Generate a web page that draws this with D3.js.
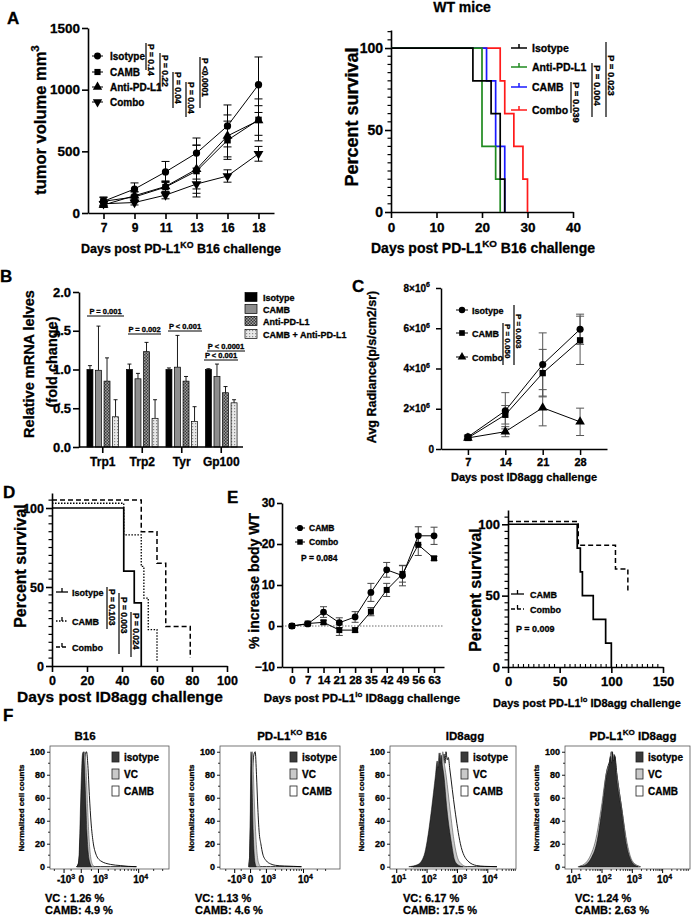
<!DOCTYPE html>
<html><head><meta charset="utf-8">
<script src="https://cdn.jsdelivr.net/npm/d3@7"></script>
<style>
body{margin:0;background:#fff;}
svg{display:block;font-family:"Liberation Sans",Arial,sans-serif;font-weight:bold;}
svg text{stroke:#000;stroke-width:0.3px;}
</style></head><body>
<svg id="chart" width="692" height="918"></svg>
<script>
// ================= DATA =================
// Panel A (left): tumour volume, PD-L1KO B16
const aDays = ["7", "9", "11", "13", "16", "18"];
const aYTicks = [0, 500, 1000, 1500];
const aIsotype = [95, 194, 333, 486, 706, 1040];
const aIsotypeErr = [30, 50, 85, 122, 170, 225];
const aCAMB = [95, 130, 210, 340, 590, 755];
const aCAMBErr = [35, 40, 45, 210, 155, 170];
const aAnti = [65, 140, 215, 355, 625, 750];
const aAntiErr = [20, 35, 45, 195, 170, 120];
const aCombo = [75, 85, 145, 235, 300, 480];
const aComboErr = [20, 20, 30, 40, 50, 60];
const aSeriesNames = ["Isotype", "CAMB", "Anti-PD-L1", "Combo"];
const aPvals = ["P = 0.14", "P = 0.22", "P = 0.04", "P = 0.04", "P <0.0001"];

// Panel A (right): survival, WT mice
const wtNames = ["Isotype", "Anti-PD-L1", "CAMB", "Combo"];
const wtIsoT = [0, 18, 22, 24, 25],        wtIsoS = [100, 80, 60, 20, 0];
const wtAntiT = [0, 20, 23, 24],           wtAntiS = [100, 40, 20, 0];
const wtCambT = [0, 21, 23, 25],           wtCambS = [100, 80, 40, 0];
const wtComboT = [0, 24, 25, 27, 29, 30],  wtComboS = [100, 80, 60, 40, 20, 0];
const wtXTicks = [0, 10, 20, 30, 40];
const wtPvals = ["P = 0.039", "P = 0.004", "P = 0.023"];

// Panel B: relative mRNA levels
const bGenes = ["Trp1", "Trp2", "Tyr", "Gp100"];
const bSeries = ["Isotype", "CAMB", "Anti-PD-L1", "CAMB + Anti-PD-L1"];
const bIsotype = [1.0, 1.0, 1.0, 1.0],     bIsotypeErr = [0.05, 0.07, 0.02, 0.01];
const bCAMB = [0.99, 0.88, 1.03, 0.91],    bCAMBErr = [0.57, 0.07, 0.41, 0.16];
const bAnti = [0.85, 1.23, 0.85, 0.70],    bAntiErr = [0.30, 0.12, 0.06, 0.08];
const bCombo = [0.39, 0.37, 0.33, 0.57],   bComboErr = [0.22, 0.24, 0.19, 0.04];
const bYTicks = [0, 0.5, 1.0, 1.5, 2.0];
const bPvals = ["P = 0.001", "P = 0.002", "P < 0.001", "P < 0.0001", "P < 0.001"];

// Panel C: avg radiance
const cDays = ["7", "14", "21", "28"];
const cIsotype = [0.6e6, 1.9e6, 4.2e6, 5.95e6], cIsotypeErr = [0.1e6, 0.9e6, 1.57e6, 0.75e6];
const cCAMB = [0.55e6, 1.7e6, 3.77e6, 5.4e6],   cCAMBErr = [0.1e6, 0.46e6, 1.18e6, 1.2e6];
const cCombo = [0.55e6, 0.86e6, 2.05e6, 1.35e6], cComboErr = [0.05e6, 0.25e6, 0.9e6, 0.68e6];
const cYTicks = [0, 2e6, 4e6, 6e6, 8e6];
const cNames = ["Isotype", "CAMB", "Combo"];
const cPvals = ["P = 0.050", "P = 0.003"];

// Panel D: survival ID8agg
const dIsoT = [0, 41, 47, 51],             dIsoS = [100, 60, 40, 0];
const dCambT = [0, 41, 51, 52.5, 55, 60],  dCambS = [100, 80, 60, 40, 20, 0];
const dComboT = [0, 51, 60, 65, 79],       dComboS = [100, 80, 60, 20, 0];
const dXTicks = [0, 20, 40, 60, 80, 100];
const dNames = ["Isotype", "CAMB", "Combo"];
const dPvals = ["P = 0.103", "P = 0.003", "P = 0.024"];

// Panel E (left): % increase body weight
const eDays = ["0", "7", "14", "21", "28", "35", "42", "49", "56", "63"];
const eCAMB = [0, 0.5, 3.4, 0.8, 2.2, 8.2, 13.7, 12.3, 22, 22];
const eCAMBErr = [0.3, 0.4, 1.3, 1.2, 1.3, 2.2, 1.8, 2.5, 2.2, 2.1];
const eCombo = [0, 0.6, 0.9, -1.0, -1.0, 3.5, 8.8, 12.7, 19.8, 16.5];
const eComboErr = [0.2, 0.3, 0.5, 1.3, 0.5, 1.0, 1.6, 2.0, 2.6, 0.5];
const eYTicks = [-10, 0, 10, 20, 30];

// Panel E (right): survival PD-L1lo ID8agg
const esCambT = [0, 67, 70, 72, 82.5, 94.5, 100], esCambS = [100, 83.3, 66.7, 50, 33.3, 16.7, 0];
const esComboT = [0, 68, 104, 116],              esComboS = [100, 83.3, 66.7, 50];
const esXTicks = [0, 50, 100, 150];

// Panel F: flow histograms [fluorescence, normalized count]
const fTitles = ["B16", "PD-L1KO B16", "ID8agg", "PD-L1KO ID8agg"];
const fVC = ["VC : 1.26 %", "VC: 1.13 %", "VC: 6.17 %", "VC: 1.24 %"];
const fCAMB = ["CAMB: 4.9 %", "CAMB: 4.6 %", "CAMB: 17.5 %", "CAMB: 2.63 %"];
const fLegend = ["isotype", "VC", "CAMB"];
const fYTicks = [0, 20, 40, 60, 80, 100];
const f1Iso = [[-200,0],[-120,3],[-80,15],[-40,45],[0,75],[50,98],[90,100],[140,85],[190,60],[250,30],[320,12],[400,4],[500,0]];
const f1VC = [[-180,0],[-100,3],[-40,25],[30,70],[100,95],[150,100],[210,85],[280,55],[360,25],[450,9],[560,2],[700,0]];
const f1CAMB = [[-200,0],[-100,4],[-20,30],[70,70],[160,96],[230,100],[300,88],[380,62],[480,38],[600,22],[800,11],[1200,5],[2300,2],[4000,1],[6000,0.3],[9000,0]];
const f2Iso = [[-70,0],[-40,8],[-15,40],[5,85],[20,100],[45,90],[80,60],[120,30],[170,10],[230,2],[280,0]];
const f2VC = [[-80,0],[-40,10],[0,50],[40,90],[80,100],[130,80],[190,50],[260,25],[350,8],[450,2],[560,0]];
const f2CAMB = [[-90,0],[-40,10],[20,50],[90,85],[160,98],[220,100],[290,80],[370,50],[450,30],[560,20],[700,11],[1000,5],[1400,2.5],[2000,1.2],[3500,0.6],[6000,0.3],[9000,0]];
const f3Iso = [[25,0],[50,2],[80,10],[100,22],[140,50],[190,80],[215,92],[230,86],[250,99],[270,90],[290,97],[320,88],[355,80],[450,50],[640,20],[800,6],[1000,2],[1500,0]];
const f3VC = [[30,0],[60,2],[90,10],[120,22],[170,50],[230,80],[250,88],[275,99],[300,90],[330,100],[360,92],[430,78],[570,50],[800,20],[1000,8],[1400,2],[2000,0]];
const f3CAMB = [[35,0],[70,3],[130,20],[200,50],[290,80],[330,85],[360,98],[390,90],[420,100],[460,93],[500,95],[560,85],[820,50],[1250,20],[2200,5],[4300,1],[8000,0.3],[20000,0]];
const f4Iso = [[18,0],[30,2],[45,8],[66,20],[100,50],[142,80],[170,88],[190,96],[205,90],[220,100],[240,92],[260,97],[296,80],[433,50],[630,20],[925,5],[1300,1],[1550,0]];
const f4VC = [[16,0],[28,3],[42,10],[60,22],[95,52],[140,82],[175,90],[200,100],[225,93],[250,98],[300,82],[450,50],[680,20],[1000,5],[1500,1],[1900,0]];
const f4CAMB = [[17,0],[30,3],[45,10],[64,22],[100,52],[145,84],[180,92],[210,100],[235,94],[265,96],[305,82],[450,50],[650,20],[950,5],[1400,1],[1800,0]];

// ================= DRAWING =================
const FONT = '"Liberation Sans", Arial, sans-serif';
const svg = d3.select("#chart");
const defs = svg.append("defs");
{
  const p1 = defs.append("pattern").attr("id", "chk").attr("width", 3).attr("height", 3).attr("patternUnits", "userSpaceOnUse");
  p1.append("rect").attr("width", 3).attr("height", 3).attr("fill", "#a0a0a0");
  p1.append("rect").attr("width", 1.5).attr("height", 1.5).attr("fill", "#3a3a3a");
  p1.append("rect").attr("x", 1.5).attr("y", 1.5).attr("width", 1.5).attr("height", 1.5).attr("fill", "#3a3a3a");
  const p2 = defs.append("pattern").attr("id", "dot").attr("width", 3).attr("height", 3).attr("patternUnits", "userSpaceOnUse");
  p2.append("rect").attr("width", 3).attr("height", 3).attr("fill", "#e8e8e8");
  p2.append("rect").attr("width", 1.2).attr("height", 1.2).attr("fill", "#8a8a8a");
}

function txt(g, x, y, s, size, o = {}) {
  const t = g.append("text").attr("x", x).attr("y", y)
    .attr("font-size", size).attr("font-weight", "bold").attr("font-family", FONT)
    .attr("text-anchor", o.anchor || "start").attr("fill", o.fill || "#000");
  if (o.rotate) t.attr("transform", `rotate(${o.rotate},${x},${y})`);
  const parts = Array.isArray(s) ? s : [s];
  let up = 0;
  parts.forEach(p => {
    const isSup = typeof p === "object";
    const ts = t.append("tspan").text(isSup ? p.sup : p);
    if (isSup) { up = size * 0.42; ts.attr("dy", -up).attr("font-size", size * 0.7); }
    else if (up) { ts.attr("dy", up); up = 0; }
  });
  return t;
}
function styleAxis(sel, size, sw) {
  sel.attr("font-family", FONT).attr("font-size", size).attr("font-weight", "bold");
  sel.selectAll(".domain").attr("stroke", "#000").attr("stroke-width", sw);
  sel.selectAll(".tick line").attr("stroke", "#000").attr("stroke-width", sw);
  sel.selectAll(".tick text").attr("fill", "#000");
}
function minorY(g, y, vals, ax, len, sw) {
  vals.forEach(v => g.append("line").attr("x1", ax - len).attr("x2", ax).attr("y1", y(v)).attr("y2", y(v)).attr("stroke", "#000").attr("stroke-width", sw));
}
function minorX(g, x, vals, ay, len, sw) {
  vals.forEach(v => g.append("line").attr("x1", x(v)).attr("x2", x(v)).attr("y1", ay).attr("y2", ay + len).attr("stroke", "#000").attr("stroke-width", sw));
}
function errBars(g, xs, y, vals, errs, cap, color, sw, upperOnly) {
  vals.forEach((v, i) => {
    const e = errs[i]; const x = xs[i];
    const yt = y(v + e), yb = upperOnly ? y(v) : y(v - e);
    g.append("line").attr("x1", x).attr("x2", x).attr("y1", yt).attr("y2", yb).attr("stroke", color).attr("stroke-width", sw);
    g.append("line").attr("x1", x - cap / 2).attr("x2", x + cap / 2).attr("y1", yt).attr("y2", yt).attr("stroke", color).attr("stroke-width", sw);
    if (!upperOnly) g.append("line").attr("x1", x - cap / 2).attr("x2", x + cap / 2).attr("y1", yb).attr("y2", yb).attr("stroke", color).attr("stroke-width", sw);
  });
}
function sym(g, type, size, x, y) {
  const t = type === "down" ? d3.symbolTriangle : type === "circle" ? d3.symbolCircle : type === "square" ? d3.symbolSquare : d3.symbolTriangle;
  g.append("path").attr("d", d3.symbol(t, size)()).attr("fill", "#000")
    .attr("transform", `translate(${x},${y})` + (type === "down" ? " rotate(180)" : ""));
}
function pBar(g, lx, y1, y2, label, size, ty) {
  g.append("line").attr("x1", lx).attr("x2", lx).attr("y1", y1).attr("y2", y2).attr("stroke", "#000").attr("stroke-width", 1.2);
  txt(g, lx + 2, ty, label, size, { rotate: 90 });
}
function survLine(g, x, y, T, S, off, color, sw, dash) {
  const pts = T.map((t, i) => [t, S[i]]);
  const p = g.append("path").attr("d", d3.line().x(d => x(d[0])).y(d => y(d[1] + off)).curve(d3.curveStepAfter)(pts))
    .attr("fill", "none").attr("stroke", color).attr("stroke-width", sw);
  if (dash) p.attr("stroke-dasharray", dash);
}
function legLine(g, x1, x2, yy, color, sw, dash) {
  const l = g.append("line").attr("x1", x1).attr("x2", x2).attr("y1", yy).attr("y2", yy).attr("stroke", color).attr("stroke-width", sw);
  if (dash) l.attr("stroke-dasharray", dash);
  const m = (x1 + x2) / 2;
  g.append("line").attr("x1", m).attr("x2", m).attr("y1", yy).attr("y2", yy - 4).attr("stroke", color).attr("stroke-width", sw);
}
const intFmt = d3.format("d");

// panel letters
[["A", 7, 24], ["B", 0, 282], ["C", 352, 292], ["D", 3, 498], ["E", 227, 503], ["F", 3, 721]]
  .forEach(d => txt(svg, d[1], d[2], d[0], 17));

// ---------- A left ----------
{
  const g = svg.append("g");
  const x = d3.scalePoint().domain(aDays).range([88, 274]).padding(0.5);
  const y = d3.scaleLinear().domain([0, 1500]).range([213, 28]);
  g.append("g").attr("transform", "translate(0,213)")
    .call(d3.axisBottom(x).tickSize(6).tickSizeOuter(0).tickPadding(4)).call(styleAxis, 12, 1.6);
  g.append("g").attr("transform", "translate(88,0)")
    .call(d3.axisLeft(y).tickValues(aYTicks).tickFormat(intFmt).tickSize(6).tickSizeOuter(0).tickPadding(2)).call(styleAxis, 13.5, 1.6);
  const xs = aDays.map(d => x(d));
  const series = [[aIsotype, aIsotypeErr, "circle"], [aCAMB, aCAMBErr, "square"], [aAnti, aAntiErr, "triangle"], [aCombo, aComboErr, "down"]];
  series.forEach(s => {
    errBars(g, xs, y, s[0], s[1], 8, "#000", 1, false);
    g.append("path").datum(s[0]).attr("d", d3.line().x((d, i) => xs[i]).y(d => y(d)))
      .attr("fill", "none").attr("stroke", "#000").attr("stroke-width", 1);
  });
  series.forEach(s => s[0].forEach((v, i) => sym(g, s[2], 42, xs[i], y(v))));
  const rows = [56, 72, 87, 102];
  aSeriesNames.forEach((n, i) => {
    g.append("line").attr("x1", 92).attr("x2", 103).attr("y1", rows[i]).attr("y2", rows[i]).attr("stroke", "#000").attr("stroke-width", 1);
    sym(g, series[i][2], 38, 97.5, rows[i]);
    txt(g, 110, rows[i] + 3.5, n, 10);
  });
  const pb = [[146, 43, 70, 44], [160, 53, 90, 55], [173, 72, 108, 72], [186, 82, 117, 82], [200, 57, 108, 58]];
  pb.forEach((b, i) => pBar(g, b[0], b[1], b[2], aPvals[i], 8.5, b[3]));
  txt(g, 46, 120, ["tumor volume mm", { sup: "3" }], 16.5, { anchor: "middle", rotate: -90 });
  txt(g, 181, 253, ["Days post PD-L1", { sup: "KO" }, " B16 challenge"], 12.5, { anchor: "middle" });
}

// ---------- A right ----------
{
  const g = svg.append("g");
  const x = d3.scaleLinear().domain([0, 40]).range([391, 573]);
  const y = d3.scaleLinear().domain([0, 111]).range([212, 30]);
  g.append("g").attr("transform", "translate(0,212)")
    .call(d3.axisBottom(x).tickValues(wtXTicks).tickSize(6).tickSizeOuter(0).tickPadding(4)).call(styleAxis, 13.5, 1.6);
  g.append("g").attr("transform", "translate(391,0)")
    .call(d3.axisLeft(y).tickValues([0, 50, 100]).tickSize(6).tickSizeOuter(0).tickPadding(2)).call(styleAxis, 14, 1.6);
  minorY(g, y, d3.range(5, 111, 5).filter(v => v % 50), 391, 3.5, 1.2);
  const cols = { iso: "#000", anti: "#1f8a1f", camb: "#1a1aff", combo: "#ff1a1a" };
  survLine(g, x, y, wtComboT, wtComboS, 0, cols.combo, 1.7);
  survLine(g, x, y, wtCambT, wtCambS, 0, cols.camb, 1.7);
  survLine(g, x, y, wtAntiT, wtAntiS, 0, cols.anti, 1.7);
  survLine(g, x, y, wtIsoT, wtIsoS, 0, cols.iso, 1.7);
  const lc = [cols.iso, cols.anti, cols.camb, cols.combo];
  const rows = [48, 67, 87, 110];
  wtNames.forEach((n, i) => {
    legLine(g, 511, 527, rows[i], lc[i], 1.5);
    txt(g, 532, rows[i] + 4, n, 10.5);
  });
  const pb = [[571, 82, 113, 82], [592, 63, 117, 65], [606, 42, 117, 55]];
  pb.forEach((b, i) => pBar(g, b[0], b[1], b[2], wtPvals[i], 9.5, b[3]));
  txt(g, 462, 12, "WT mice", 14, { anchor: "middle" });
  txt(g, 358, 117, "Percent survival", 18, { anchor: "middle", rotate: -90 });
  txt(g, 483, 253, ["Days post PD-L1", { sup: "KO" }, " B16 challenge"], 14, { anchor: "middle" });
}

// ---------- B ----------
{
  const g = svg.append("g");
  const x0 = d3.scaleBand().domain(bGenes).range([83, 241]).paddingInner(0.2).paddingOuter(0.1);
  const x1 = d3.scaleBand().domain(bSeries).range([0, x0.bandwidth()]).paddingInner(0.3);
  const y = d3.scaleLinear().domain([0, 2]).range([447, 292]);
  const vals = [bIsotype, bCAMB, bAnti, bCombo];
  const errs = [bIsotypeErr, bCAMBErr, bAntiErr, bComboErr];
  const fills = ["#000", "#8e8e8e", "url(#chk)", "url(#dot)"];
  bSeries.forEach((s, si) => {
    const xs = bGenes.map(gn => x0(gn) + x1(s) + x1.bandwidth() / 2);
    errBars(g, xs, y, vals[si], errs[si], 4, "#000", 0.9, true);
    bGenes.forEach((gn, gi) => {
      g.append("rect").attr("x", x0(gn) + x1(s)).attr("width", x1.bandwidth())
        .attr("y", y(vals[si][gi])).attr("height", y(0) - y(vals[si][gi]))
        .attr("fill", fills[si]).attr("stroke", "#000").attr("stroke-width", 0.7);
    });
  });
  const ax = g.append("g").attr("transform", "translate(0,447)")
    .call(d3.axisBottom(x0).tickSize(6).tickSizeOuter(0).tickPadding(4)).call(styleAxis, 12, 1.6);
  ax.select(".domain").attr("d", "M79,0H243");
  g.append("g").attr("transform", "translate(79,0)")
    .call(d3.axisLeft(y).tickValues(bYTicks).tickFormat(d3.format(".1f")).tickSize(6).tickSizeOuter(0).tickPadding(2)).call(styleAxis, 13, 1.6);
  const pl = [[87, 124, 316], [128, 161, 334], [168, 202, 331], [207, 245, 351], [204, 238, 360]];
  pl.forEach((p, i) => {
    g.append("line").attr("x1", p[0]).attr("x2", p[1]).attr("y1", p[2]).attr("y2", p[2]).attr("stroke", "#000").attr("stroke-width", 1.2);
    txt(g, (p[0] + p[1]) / 2, p[2] - 2.5, bPvals[i], 7.5, { anchor: "middle" });
  });
  const rows = [297, 309, 321, 334];
  bSeries.forEach((s, i) => {
    g.append("rect").attr("x", 245).attr("y", rows[i] - 4.5).attr("width", 12).attr("height", 9)
      .attr("fill", fills[i]).attr("stroke", "#000").attr("stroke-width", 0.7);
    txt(g, 263, rows[i] + 3.5, s, 9);
  });
  txt(g, 34, 364, "Relative mRNA lelves", 14.5, { anchor: "middle", rotate: -90 });
  txt(g, 57, 362, "(fold change)", 14.5, { anchor: "middle", rotate: -90 });
}

// ---------- C ----------
{
  const g = svg.append("g");
  const x = d3.scalePoint().domain(cDays).range([441, 607]).padding(0.72);
  const y = d3.scaleLinear().domain([0, 8e6]).range([449, 288]);
  g.append("g").attr("transform", "translate(0,449)")
    .call(d3.axisBottom(x).tickSize(6).tickSizeOuter(0).tickPadding(3)).call(styleAxis, 11, 1.5);
  g.append("g").attr("transform", "translate(441,0)")
    .call(d3.axisLeft(y).tickValues(cYTicks).tickSize(5).tickSizeOuter(0).tickFormat("")).call(styleAxis, 10, 1.5);
  cYTicks.forEach(v => {
    const lab = v === 0 ? "0" : [(v / 1e6) + "×10", { sup: "6" }];
    txt(g, v === 0 ? 434 : 430, y(v) + 3.5, lab, 10, { anchor: "end" });
  });
  const xs = cDays.map(d => x(d));
  const series = [[cIsotype, cIsotypeErr, "circle"], [cCAMB, cCAMBErr, "square"], [cCombo, cComboErr, "triangle"]];
  series.forEach(s => {
    errBars(g, xs, y, s[0], s[1], 8, "#555", 1, false);
    g.append("path").datum(s[0]).attr("d", d3.line().x((d, i) => xs[i]).y(d => y(d)))
      .attr("fill", "none").attr("stroke", "#000").attr("stroke-width", 1);
  });
  series.forEach(s => s[0].forEach((v, i) => sym(g, s[2], 40, xs[i], y(v))));
  const rows = [310, 333, 357];
  cNames.forEach((n, i) => {
    g.append("line").attr("x1", 456).attr("x2", 468).attr("y1", rows[i]).attr("y2", rows[i]).attr("stroke", "#000").attr("stroke-width", 1);
    sym(g, series[i][2], 32, 462, rows[i]);
    txt(g, 472, rows[i] + 3.5, n, 9);
  });
  pBar(g, 503, 323, 365, cPvals[0], 8, 324);
  pBar(g, 514, 305, 365, cPvals[1], 8, 314);
  txt(g, 376, 367, "Avg Radiance(p/s/cm2/sr)", 12.5, { anchor: "middle", rotate: -90 });
  txt(g, 524, 481, "Days post ID8agg challenge", 11, { anchor: "middle" });
}

// ---------- D ----------
{
  const g = svg.append("g");
  const x = d3.scaleLinear().domain([0, 100]).range([52, 227]);
  const y = d3.scaleLinear().domain([0, 109.5]).range([666, 493]);
  g.append("g").attr("transform", "translate(0,666)")
    .call(d3.axisBottom(x).tickValues(dXTicks).tickSize(6).tickSizeOuter(0).tickPadding(4)).call(styleAxis, 12.5, 1.6);
  g.append("g").attr("transform", "translate(52,0)")
    .call(d3.axisLeft(y).tickValues([0, 50, 100]).tickSize(6).tickSizeOuter(0).tickPadding(2)).call(styleAxis, 12.5, 1.6);
  minorY(g, y, d3.range(5, 109, 5).filter(v => v % 50), 52, 3.5, 1.2);
  survLine(g, x, y, dComboT, dComboS, 5, "#000", 1.5, "5,3");
  survLine(g, x, y, dCambT, dCambS, 3, "#000", 1.3, "1.5,1.5");
  survLine(g, x, y, dIsoT, dIsoS, 0, "#000", 1.7);
  const rows = [592, 621, 647];
  const dashes = [null, "1.5,1.5", "4,2"];
  dNames.forEach((n, i) => {
    legLine(g, 56, 68, rows[i], "#000", 1.3, dashes[i]);
    txt(g, 72, rows[i] + 3.5, n, 9);
  });
  pBar(g, 107, 587, 629, dPvals[0], 8.5, 589);
  pBar(g, 119, 593, 654, dPvals[1], 8.5, 597);
  pBar(g, 131, 612, 657, dPvals[2], 8.5, 613);
  txt(g, 26, 566, "Percent survival", 16, { anchor: "middle", rotate: -90 });
  txt(g, 120, 702, "Days post ID8agg challenge", 15.5, { anchor: "middle" });
}

// ---------- E left ----------
{
  const g = svg.append("g");
  const x = d3.scalePoint().domain(eDays).range([282, 444]).padding(0.63);
  const y = d3.scaleLinear().domain([-10, 30]).range([667, 503]);
  g.append("line").attr("x1", 282).attr("x2", 444).attr("y1", y(0)).attr("y2", y(0))
    .attr("stroke", "#444").attr("stroke-width", 0.8).attr("stroke-dasharray", "1.5,1.5");
  g.append("g").attr("transform", "translate(0,667)")
    .call(d3.axisBottom(x).tickSize(6).tickSizeOuter(0).tickPadding(3)).call(styleAxis, 11.5, 1.6);
  g.append("g").attr("transform", "translate(282,0)")
    .call(d3.axisLeft(y).tickValues(eYTicks).tickSize(5).tickSizeOuter(0).tickPadding(2)).call(styleAxis, 12, 1.6);
  const xs = eDays.map(d => x(d));
  const series = [[eCAMB, eCAMBErr, "circle"], [eCombo, eComboErr, "square"]];
  series.forEach(s => {
    errBars(g, xs, y, s[0], s[1], 7, "#444", 1, false);
    g.append("path").datum(s[0]).attr("d", d3.line().x((d, i) => xs[i]).y(d => y(d)))
      .attr("fill", "none").attr("stroke", "#000").attr("stroke-width", 1);
  });
  series.forEach(s => s[0].forEach((v, i) => sym(g, s[2], 36, xs[i], y(v))));
  const rows = [528, 542];
  ["CAMB", "Combo"].forEach((n, i) => {
    g.append("line").attr("x1", 295).attr("x2", 305).attr("y1", rows[i]).attr("y2", rows[i]).attr("stroke", "#000").attr("stroke-width", 1);
    sym(g, series[i][2], 30, 300, rows[i]);
    txt(g, 309, rows[i] + 3, n, 8.5);
  });
  txt(g, 301, 561, "P = 0.084", 8.5);
  txt(g, 259, 581, "% increase body WT", 14, { anchor: "middle", rotate: -90 });
  txt(g, 362, 702, ["Days post PD-L1", { sup: "lo" }, " ID8agg challenge"], 11.5, { anchor: "middle" });
}

// ---------- E right ----------
{
  const g = svg.append("g");
  const x = d3.scaleLinear().domain([0, 150]).range([508, 663]);
  const y = d3.scaleLinear().domain([0, 110]).range([667, 510]);
  g.append("g").attr("transform", "translate(0,667)")
    .call(d3.axisBottom(x).tickValues(esXTicks).tickSize(6).tickSizeOuter(0).tickPadding(4)).call(styleAxis, 13, 1.6);
  g.append("g").attr("transform", "translate(508,0)")
    .call(d3.axisLeft(y).tickValues([0, 50, 100]).tickSize(6).tickSizeOuter(0).tickPadding(2)).call(styleAxis, 13, 1.6);
  minorY(g, y, d3.range(5, 110, 5).filter(v => v % 50), 508, 3.5, 1.2);
  minorX(g, x, d3.range(5, 150, 5).filter(v => v % 50), 667, -3, 1.1);
  survLine(g, x, y, esComboT, esComboS, 2, "#000", 1.5, "5,3");
  survLine(g, x, y, esCambT, esCambS, 0, "#000", 1.7);
  legLine(g, 511, 524, 594, "#000", 1.3);
  legLine(g, 511, 524, 609, "#000", 1.3, "4,2");
  txt(g, 530, 597.5, "CAMB", 9);
  txt(g, 530, 612.5, "Combo", 9);
  txt(g, 516, 632, "P = 0.009", 9);
  txt(g, 481, 590, "Percent survival", 16, { anchor: "middle", rotate: -90 });
  txt(g, 587, 707, ["Days post PD-L1", { sup: "lo" }, " ID8agg challenge"], 11, { anchor: "middle" });
}

// ---------- F ----------
{
  const yF = d3.scaleLinear().domain([-2, 105]).range([869, 746]);
  const symTicks = [-1000, 0, 1000, 10000];
  const symLabels = [["-10", { sup: "3" }], ["0"], ["10", { sup: "3" }], ["10", { sup: "4" }]];
  const logTicks = [10, 100, 1000, 10000];
  const logLabels = [["10", { sup: "1" }], ["10", { sup: "2" }], ["10", { sup: "3" }], ["10", { sup: "4" }]];
  const layout = [
    { x0: 50, x1: 169, log: false, dom: [-2600, 39800], tx: 85, leg: 112, note: 45, data: [f1Iso, f1VC, f1CAMB] },
    { x0: 220, x1: 340, log: false, dom: [-2900, 60000], tx: 292, leg: 290, note: 195, data: [f2Iso, f2VC, f2CAMB] },
    { x0: 390, x1: 516, log: true, dom: [6, 85000], tx: 465, leg: 461, note: 403, data: [f3Iso, f3VC, f3CAMB] },
    { x0: 565, x1: 690, log: true, dom: [6, 80000], tx: 633, leg: 636, note: 575, data: [f4Iso, f4VC, f4CAMB] }
  ];
  // styles indexed like data: [isotype, VC, CAMB]
  const hStyles = [["#2e2e2e", "#000", 0.5], ["#c9c9c9", "#555", 0.6], ["#ffffff", "#000", 0.9]];
  layout.forEach((L, pi) => {
    const g = svg.append("g");
    const x = L.log ? d3.scaleLog().domain(L.dom).range([L.x0, L.x1])
                    : d3.scaleSymlog().constant(900).domain(L.dom).range([L.x0, L.x1]);
    const cid = "clipF" + pi;
    defs.append("clipPath").attr("id", cid).append("rect").attr("x", L.x0).attr("y", 746).attr("width", L.x1 - L.x0).attr("height", 123);
    const area = d3.area().x(d => x(d[0])).y0(yF(0)).y1(d => yF(d[1])).curve(d3.curveMonotoneX);
    const hg = g.append("g").attr("clip-path", `url(#${cid})`);
    [2, 1, 0].forEach(k => {
      hg.append("path").attr("d", area(L.data[k])).attr("fill", hStyles[k][0]).attr("stroke", hStyles[k][1]).attr("stroke-width", hStyles[k][2]);
    });
    g.append("rect").attr("x", L.x0).attr("y", 746).attr("width", L.x1 - L.x0).attr("height", 123)
      .attr("fill", "none").attr("stroke", "#555").attr("stroke-width", 0.8);
    g.append("g").attr("transform", `translate(${L.x0},0)`)
      .call(d3.axisLeft(yF).tickValues(fYTicks).tickSize(3).tickSizeOuter(0).tickPadding(2)).call(styleAxis, 9, 0.9)
      .select(".domain").remove();
    minorY(g, yF, d3.range(10, 100, 20), L.x0, 2, 0.8);
    const ticks = L.log ? logTicks : symTicks;
    const labs = L.log ? logLabels : symLabels;
    const minors = L.log ? [2,3,4,5,6,7,8,9].flatMap(m => [10, 100, 1000, 10000].map(d => m * d)).filter(v => v > L.dom[0] && v < L.dom[1])
                         : [-2000, -500, 500, 2000, 3000, 4000, 5000, 6000, 7000, 8000, 9000, 20000, 30000];
    minorX(g, x, minors, 869, 2, 0.8);
    minorX(g, x, ticks, 869, 4, 1);
    ticks.forEach((t, i) => txt(g, x(t) + (labs[i].length > 1 ? 2 : 0), 883, labs[i], 10, { anchor: "middle" }));
    const tparts = fTitles[pi].includes("KO") ? ["PD-L1", { sup: "KO" }, fTitles[pi].replace("PD-L1KO", "")] : [fTitles[pi]];
    txt(g, L.tx, 740, tparts, 11.5, { anchor: "middle" });
    const rows = [757, 774, 791];
    const sw = ["#3a3a3a", "#c9c9c9", "#ffffff"];
    fLegend.forEach((n, i) => {
      g.append("rect").attr("x", L.leg).attr("y", rows[i] - 5).attr("width", 7).attr("height", 10)
        .attr("fill", sw[i]).attr("stroke", "#222").attr("stroke-width", 0.8);
      txt(g, L.leg + 12, rows[i] + 3.5, n, 10);
    });
    txt(g, L.x0 - 26, 808, "Normalized cell counts", 8, { anchor: "middle", rotate: -90 });
    txt(g, L.note, 902, fVC[pi], 11);
    txt(g, L.note, 914, fCAMB[pi], 11);
  });
}
</script></body></html>
